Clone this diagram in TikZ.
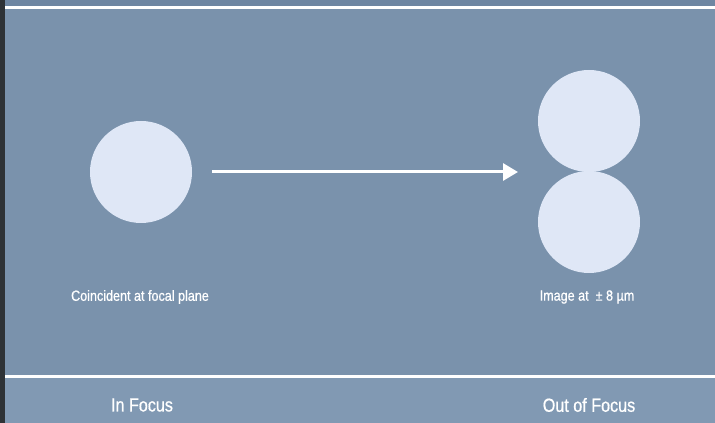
\documentclass[tikz,border=0pt]{standalone}
\usepackage{fontspec}
\setmainfont{Liberation Sans}[FakeStretch=0.85]
\newfontfamily\medfont{Liberation Sans}[FakeStretch=0.85,FakeBold=0.7]
\usetikzlibrary{arrows.meta}
\definecolor{bgc}{HTML}{7A92AC}
\definecolor{bandc}{HTML}{8199B3}
\definecolor{topc}{HTML}{6E86A2}
\definecolor{spot}{HTML}{DFE7F6}
\definecolor{edgec}{HTML}{2E3236}
\tikzset{
  spotc/.style={circle, fill=spot, minimum size=102pt, inner sep=0pt},
  lbl/.style={text=white, font=\medfont\fontsize{14.8}{17}\selectfont},
  hdr/.style={text=white, font=\medfont\fontsize{19}{22}\selectfont}
}
\begin{document}
\begin{tikzpicture}[x=1pt,y=1pt]
\useasboundingbox (0,0) rectangle (715,423);
\fill[bgc] (0,0) rectangle (715,423);
\fill[topc] (0,416) rectangle (715,423);
\fill[bandc] (0,0) rectangle (715,45);
\fill[white] (5,414) rectangle (715,417);
\fill[white] (5,45) rectangle (715,48);
\fill[edgec] (0,0) rectangle (5,423);
\node[spotc] (left) at (141,251) {};
\node[spotc] (rtop) at (589,302) {};
\node[spotc] (rbot) at (589,201) {};
\coordinate (astart) at (212,251);
\coordinate (aend) at (518,251);
\draw[white, line width=3pt, -{Triangle[length=15pt,width=17pt]}] (astart) -- (aend);
\node[lbl] (l1) at (140,126) {Coincident at focal plane};
\node[lbl] (l2) at (587,126) {Image at\ \ ± 8 µm};
\node[hdr] (h1) at (142,18) {In Focus};
\node[hdr] (h2) at (589,18) {Out of Focus};
\end{tikzpicture}
\end{document}
